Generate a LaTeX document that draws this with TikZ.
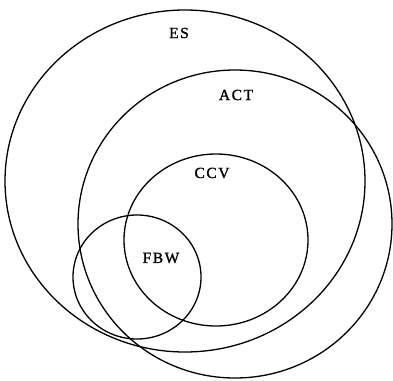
\documentclass[tikz,border=0pt]{standalone}
\usepackage{fontspec}
\setmainfont{Liberation Serif}
\usepackage{tikz}

\tikzset{
    setline/.style={line width=1.3pt, black},
    setlabel/.style={font=\fontsize{15.5}{18}\selectfont\addfontfeatures{LetterSpace=10,FakeBold=1.2}, inner sep=0pt}
}

\begin{document}
\begin{tikzpicture}[x=1pt, y=-1pt]
    \useasboundingbox (0,0) rectangle (393,380);

    % --- 1. 四個集合的圓心與半徑 ---
    \coordinate (ES)  at (185,181);
    \coordinate (ACT) at (235,224);
    \coordinate (CCV) at (216,240);
    \coordinate (FBW) at (137,277);

    % --- 2. 繪製集合邊界 ---
    \draw[setline] (ES)  ellipse [x radius=180, y radius=171];
    \draw[setline] (ACT) ellipse [x radius=157, y radius=154];
    \draw[setline] (CCV) ellipse [x radius=92, y radius=86];
    \draw[setline] (FBW) ellipse [x radius=64, y radius=62];

    % --- 3. 標籤 ---
    \node[setlabel] (labES)  at (179,33)  {ES};
    \node[setlabel] (labACT) at (236,95)  {ACT};
    \node[setlabel] (labCCV) at (212,173) {CCV};
    \node[setlabel] (labFBW) at (161,258) {FBW};
\end{tikzpicture}
\end{document}
